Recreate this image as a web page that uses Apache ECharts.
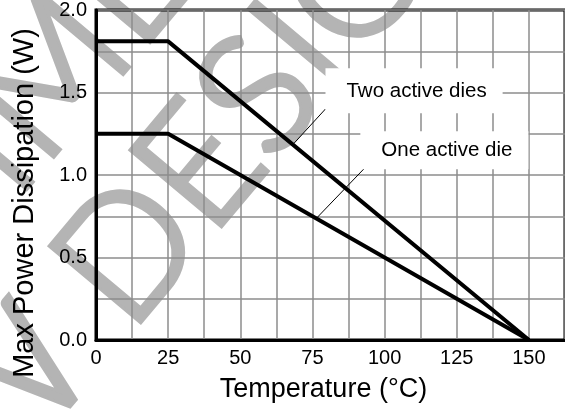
<!DOCTYPE html>
<html>
<head>
<meta charset="utf-8">
<script src="https://cdn.jsdelivr.net/npm/echarts@6/dist/echarts.min.js"></script>
<style>
  html, body { margin: 0; padding: 0; background: #fff; }
  #chart { width: 565px; height: 410px; }
</style>
</head>
<body>
<div id="chart"></div>
<script>
// temperature (°C) breakpoints of the derating curves
const temps = [0, 25, 150]
const twoDies = [1.81, 1.81, 0]
const oneDie = [1.25, 1.25, 0]

// label anchor (box centre) and leader line ends, in data units
const twoLabel = { text: 'Two active dies', at: [110.2, 1.51], leader: [[79.5, 1.4], [68.5, 1.19]] }
const oneLabel = { text: 'One active die', at: [120.7, 1.15], leader: [[93.8, 1.055], [76.5, 0.74]] }

// status stamp printed across the datasheet figure
const stampLines = ['NOT RECOMMENDED FOR', 'NEW DESIGNS']

const xTickStep = 12.5
const yTickStep = 0.25

const font = 'Liberation Sans, Arial, sans-serif'
const gridGrey = '#8c8c8c'
const stampGrey = '#b4b4b4'

function pairs(xs, ys) {
  return xs.map((x, i) => [x, ys[i]])
}

function labelPoint(lbl, pad) {
  return {
    coord: lbl.at,
    symbolSize: 0,
    label: {
      show: true,
      position: 'inside',
      formatter: lbl.text,
      color: '#000',
      fontFamily: font,
      fontSize: 20.5,
      lineHeight: 24,
      backgroundColor: '#fff',
      padding: pad,
    },
  }
}

function leaderLine(lbl) {
  return [{ coord: lbl.leader[0] }, { coord: lbl.leader[1] }]
}

const chart = echarts.init(document.getElementById('chart'), null, { renderer: 'canvas' })

const option = {
  animation: false,
  graphic: {
    elements: [
      {
        type: 'group',
        x: 104,
        y: 147,
        rotation: (50 * Math.PI) / 180,
        z: -10,
        silent: true,
        children: stampLines.map((t, i) => ({
          type: 'text',
          x: 0,
          y: i === 0 ? -86.5 : 86.5,
          z: -10,
          style: {
            text: t,
            fill: stampGrey,
            stroke: stampGrey,
            lineWidth: 6,
            lineJoin: 'round',
            font: '300 165px Lato, "Liberation Sans", sans-serif',
            textAlign: 'center',
            textVerticalAlign: 'middle',
          },
        })),
      },
    ],
  },
  grid: {
    left: 96,
    right: -3,
    top: 8,
    bottom: 70,
    show: true,
    borderColor: '#000',
    borderWidth: 3,
    containLabel: false,
  },
  xAxis: {
    type: 'value',
    min: 0,
    max: 162.5,
    interval: xTickStep,
    name: 'Temperature (°C)',
    nameLocation: 'middle',
    nameGap: 36,
    nameTextStyle: { fontFamily: font, fontSize: 27, color: '#000', padding: [0, 14, 0, 0] },
    axisLine: { show: true, lineStyle: { color: '#000', width: 3 } },
    axisTick: { show: false },
    splitLine: { show: true, lineStyle: { color: gridGrey, width: 1.5 } },
    axisLabel: {
      fontFamily: font,
      fontSize: 20,
      color: '#000',
      margin: 8,
      showMaxLabel: false,
      formatter: (v) => (v % 25 === 0 ? String(v) : ''),
    },
  },
  yAxis: {
    type: 'value',
    min: 0,
    max: 2,
    interval: yTickStep,
    name: 'Max Power Dissipation (W)',
    nameLocation: 'middle',
    nameGap: 57,
    nameTextStyle: { fontFamily: font, fontSize: 29, color: '#000', padding: [0, 56, 0, 0] },
    axisLine: { show: true, lineStyle: { color: '#000', width: 3 } },
    axisTick: { show: false },
    splitLine: { show: true, lineStyle: { color: gridGrey, width: 1.5 } },
    axisLabel: {
      fontFamily: font,
      fontSize: 20,
      color: '#000',
      margin: 9,
      formatter: (v) => (Math.round(v * 100) % 50 === 0 ? v.toFixed(1) : ''),
    },
  },
  series: [
    {
      name: 'Two active dies',
      type: 'line',
      data: pairs(temps, twoDies),
      symbol: 'none',
      lineStyle: { color: '#000', width: 4 },
      z: 3,
      markLine: {
        silent: true,
        symbol: 'none',
        label: { show: false },
        lineStyle: { color: '#000', width: 1, type: 'solid' },
        data: [leaderLine(twoLabel), leaderLine(oneLabel)],
      },
      markPoint: {
        silent: true,
        data: [labelPoint(twoLabel, [7, 16, 14, 21]), labelPoint(oneLabel, [8, 16, 6, 21])],
      },
    },
    {
      name: 'One active die',
      type: 'line',
      data: pairs(temps, oneDie),
      symbol: 'none',
      lineStyle: { color: '#000', width: 4 },
      z: 3,
    },
  ],
}

chart.setOption(option)
</script>
</body>
</html>
